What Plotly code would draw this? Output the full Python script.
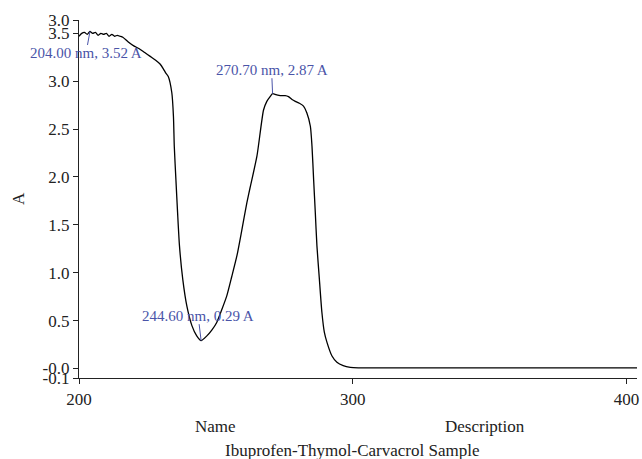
import plotly.graph_objects as go

wavelength = [200, 201, 202, 203, 204, 205, 206, 207, 208, 209, 210, 211, 212, 213, 214,
              215, 216, 218, 220, 222, 224, 226, 228, 229.6, 230.8, 231.6, 232.6, 233.9,
              234.5, 234.8, 235.4, 236.0, 236.7, 237.9, 239.4, 241.2, 243.0, 244.6, 246.7,
              248.5, 250.3, 252.1, 254.0, 255.8, 257.7, 259.5, 261.3, 262.5, 265.0, 267.4,
              268.6, 269.8, 270.7, 272.0, 273.5, 275.3, 276.5, 277.8, 279.0, 280.5, 282.0,
              283.2, 284.5, 285.1, 285.7, 286.3, 286.9, 287.8, 288.7, 289.6, 290.6, 292.4,
              294.2, 296.5, 299.1, 302, 310, 320, 340, 360, 380, 400, 403.8]
absorbance = [3.47, 3.50, 3.51, 3.49, 3.52, 3.50, 3.51, 3.48, 3.50, 3.49, 3.50, 3.47, 3.49,
              3.47, 3.48, 3.47, 3.46, 3.41, 3.37, 3.34, 3.30, 3.26, 3.22, 3.18, 3.13, 3.09,
              3.05, 2.88, 2.63, 2.32, 1.97, 1.63, 1.28, 0.93, 0.65, 0.45, 0.34, 0.29, 0.34,
              0.40, 0.48, 0.61, 0.76, 0.96, 1.18, 1.45, 1.73, 1.89, 2.22, 2.70, 2.79, 2.84,
              2.87, 2.86, 2.85, 2.85, 2.84, 2.81, 2.79, 2.77, 2.74, 2.67, 2.53, 2.32, 1.97,
              1.63, 1.28, 0.93, 0.59, 0.38, 0.27, 0.13, 0.065, 0.03, 0.012, 0.006, 0.005,
              0.005, 0.005, 0.005, 0.005, 0.005, 0.005]

peak_x = [204.0, 270.7, 244.6]
peak_y = [3.52, 2.87, 0.29]
peak_labels = ["204.00 nm, 3.52 A", "270.70 nm, 2.87 A", "244.60 nm, 0.29 A"]
peak_offsets = [(-4, 22), (-1, -24), (-3, -25)]

y_tickvals = [-0.1, 0.0, 0.5, 1.0, 1.5, 2.0, 2.5, 3.0, 3.5, 3.64]
y_ticktext = ["-0.1", "-0.0", "0.5", "1.0", "1.5", "2.0", "2.5", "3.0", "3.5", "3.0"]
x_tickvals = [200, 300, 400]

FONT = "Liberation Serif"
LABEL_COLOR = "#4a54a8"
TEXT_COLOR = "#222222"

fig = go.Figure()
fig.add_trace(go.Scatter(x=wavelength, y=absorbance, mode="lines",
                         line=dict(color="black", width=1.3, shape="spline", smoothing=0.6),
                         showlegend=False, hoverinfo="skip"))

for (px, py, lab, (ax, ay)) in zip(peak_x, peak_y, peak_labels, peak_offsets):
    fig.add_annotation(x=px, y=py, xref="x", yref="y", text=lab, showarrow=True,
                       arrowhead=0, arrowwidth=1, arrowcolor=LABEL_COLOR, ax=ax, ay=ay,
                       font=dict(family=FONT, size=15, color=LABEL_COLOR),
                       bgcolor="rgba(0,0,0,0)", borderpad=0)

# axis titles / captions
fig.add_annotation(text="A", xref="paper", yref="paper", x=(18 - 79) / 558, y=0.5,
                   xanchor="center", yanchor="middle",
                   textangle=-90, showarrow=False, font=dict(family=FONT, size=17, color=TEXT_COLOR))
fig.add_annotation(text="Name", xref="paper", yref="paper", x=(215 - 79) / 558,
                   y=-(427 - 378) / 358, showarrow=False, xanchor="center", yanchor="middle",
                   font=dict(family=FONT, size=17, color=TEXT_COLOR))
fig.add_annotation(text="Description", xref="paper", yref="paper", x=(485 - 79) / 558,
                   y=-(427 - 378) / 358, showarrow=False, xanchor="center", yanchor="middle",
                   font=dict(family=FONT, size=17, color=TEXT_COLOR))
fig.add_annotation(text="Ibuprofen-Thymol-Carvacrol Sample", xref="paper", yref="paper",
                   x=(352 - 79) / 558, y=-(450 - 378) / 358, showarrow=False,
                   xanchor="center", yanchor="middle",
                   font=dict(family=FONT, size=17, color=TEXT_COLOR))

fig.update_layout(
    width=642, height=459,
    margin=dict(l=79, r=5, t=20, b=81),
    paper_bgcolor="white", plot_bgcolor="white",
    font=dict(family=FONT, size=17, color=TEXT_COLOR),
    xaxis=dict(range=[200, 403.8], tickvals=x_tickvals, ticks="outside", ticklen=5,
               tickcolor=TEXT_COLOR, showline=True, linecolor=TEXT_COLOR, linewidth=1.3,
               showgrid=False, zeroline=False, automargin=False,
               tickfont=dict(family=FONT, size=17)),
    yaxis=dict(range=[-0.1, 3.64], tickvals=y_tickvals, ticktext=y_ticktext,
               ticks="outside", ticklen=5, tickcolor=TEXT_COLOR, showline=True,
               linecolor=TEXT_COLOR, linewidth=1.3, showgrid=False, zeroline=False,
               automargin=False, tickfont=dict(family=FONT, size=17)),
)

fig.write_html("out.html", config={"displayModeBar": False},
               post_script="document.body.style.margin='0';document.body.style.overflow='hidden';")
